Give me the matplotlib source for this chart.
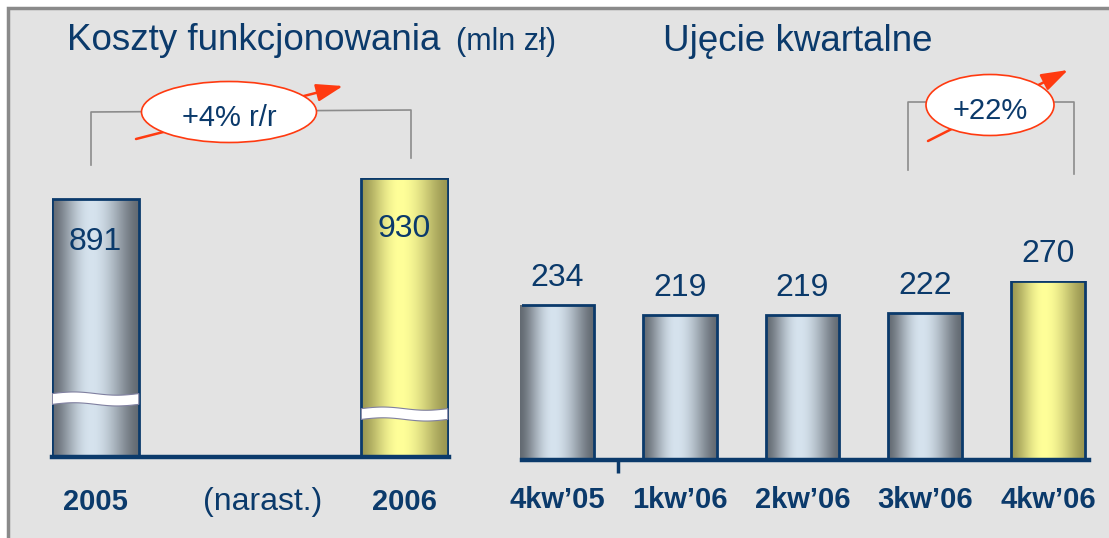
import numpy as np
import matplotlib.pyplot as plt
import matplotlib.transforms as mtransforms
from matplotlib.colors import to_rgb
from matplotlib.patches import Rectangle, Ellipse, Polygon, FancyArrowPatch

# data
years = ['2005', '2006']
year_costs = [891, 930]
quarters = ['4kw’05', '1kw’06', '2kw’06', '3kw’06', '4kw’06']
quarter_costs = [234, 219, 219, 222, 270]
yoy_label = '+4% r/r'
qoq_label = '+22%'

W, H = 1109, 538
NAVY = '#0b3a6b'
RED = '#ff3a10'
GRAY_BAR = ('#636a72', '#d6e3ee')
GOLD_BAR = ('#9a9752', '#ffff99')
BREAK_FLOOR = 412  # left panel uses a broken axis

plt.rcParams['font.family'] = ['Liberation Sans', 'DejaVu Sans']

fig = plt.figure(figsize=(W / 100, H / 100), dpi=100)
fig.patch.set_facecolor('white')


def px_axes(l, t, r, b):
    return fig.add_axes([l / W, 1 - b / H, (r - l) / W, (b - t) / H])


def gradient(dark, light):
    t = np.linspace(0, 1, 200)
    f = np.where(t < 0.45,
                 np.cos(np.pi / 2 * (0.45 - t) / 0.45),
                 np.cos(np.pi / 2 * (t - 0.45) / 0.55)) ** 1.5
    d = np.array(to_rgb(dark))
    l = np.array(to_rgb(light))
    return (d + (l - d) * f[:, None])[None, :, :]


def draw_bars(ax, x, vals, width, styles):
    # limits must already be set: the gradient starts at the visible floor
    floor = ax.get_ylim()[0]
    bars = ax.bar(x, vals, width, color='none', edgecolor=NAVY, lw=2, zorder=3)
    for b, st in zip(bars, styles):
        im = ax.imshow(gradient(*st),
                       extent=[b.get_x(), b.get_x() + b.get_width(), floor, b.get_height()],
                       aspect='auto', zorder=2, interpolation='bicubic')
        im.set_clip_path(b)
    ax.set_ylim(floor, max(vals))
    return bars


def style_axis(ax):
    ax.patch.set_visible(False)
    for s in ['top', 'left', 'right']:
        ax.spines[s].set_visible(False)
    ax.spines['bottom'].set_color(NAVY)
    ax.spines['bottom'].set_linewidth(3.2)
    ax.set_yticks([])
    ax.tick_params(axis='x', which='major', length=0, labelsize=21, labelcolor=NAVY)


# background panel + decorations in pixel coordinates
bg = fig.add_axes([0, 0, 1, 1])
bg.set_xlim(0, W)
bg.set_ylim(H, 0)
bg.axis('off')
bg.add_patch(Rectangle((8, 8), W + 20, H + 20, fc='#e3e3e3', ec='#8a8a8a', lw=2.5))

fig.text(67 / W, 1 - 50 / H, 'Koszty funkcjonowania', size=26.5, color=NAVY, va='baseline')
fig.text(456 / W, 1 - 50 / H, '(mln zł)', size=22, color=NAVY, va='baseline')
fig.text(663 / W, 1 - 51 / H, 'Ujęcie kwartalne', size=26.5, color=NAVY, va='baseline')

# left panel: yearly totals
ax1 = px_axes(52, 178, 449, 457)
ax1.set_xlim(-0.141, 1.144)
ax1.set_ylim(BREAK_FLOOR, max(year_costs))
bars1 = draw_bars(ax1, [0, 1], year_costs, 0.28, [GRAY_BAR, GOLD_BAR])
ax1.set_xlim(-0.141, 1.144)
style_axis(ax1)
ax1.set_xticks([0, 1])
ax1.set_xticklabels(years, fontweight='bold')
ax1.tick_params(axis='x', pad=22)
ax1.text(0.54, -0.161, '(narast.)', transform=mtransforms.blended_transform_factory(ax1.transData, ax1.transAxes),
         ha='center', va='center', size=23, color=NAVY)

for b, v, off, frac in zip(bars1, year_costs, [43, 51], [0.208, 0.154]):
    cx = b.get_x() + b.get_width() / 2
    ax1.annotate(str(v), xy=(cx, v), xytext=(0, -off), textcoords='offset pixels',
                 ha='center', va='center', size=23, color=NAVY, zorder=5)
    # axis break band
    lo, hi = ax1.get_ylim()
    y0 = lo + frac * (hi - lo)
    xs = np.linspace(b.get_x(), b.get_x() + b.get_width(), 40)
    wave = 3 * np.sin(2 * np.pi * (xs - xs[0]) / (xs[-1] - xs[0]))
    pts = np.vstack([np.column_stack([xs, y0 + 10 + wave]),
                     np.column_stack([xs[::-1], y0 - 10 + wave[::-1]])])
    ax1.add_patch(Polygon(pts, closed=True, fc='white', ec='#8080a0', lw=0.8, zorder=4))

# right panel: quarterly costs
ax2 = px_axes(522, 281, 1089, 460)
ax2.set_xlim(-0.285, 4.334)
ax2.set_ylim(0, max(quarter_costs))
qstyles = [GRAY_BAR] * 4 + [GOLD_BAR]
bars2 = draw_bars(ax2, range(len(quarters)), quarter_costs, 0.6, qstyles)
ax2.set_xlim(-0.285, 4.334)
style_axis(ax2)
ax2.set_xticks(range(len(quarters)))
ax2.set_xticklabels(quarters, fontweight='bold')
ax2.tick_params(axis='x', pad=19)
ax2.set_xticks([0.5], minor=True)
ax2.tick_params(axis='x', which='minor', length=9, width=2.5, color=NAVY, direction='out')

for b, v in zip(bars2, quarter_costs):
    ax2.annotate(str(v), xy=(b.get_x() + b.get_width() / 2, v), xytext=(0, 12),
                 textcoords='offset pixels', ha='center', va='bottom', size=23,
                 color=NAVY, annotation_clip=False)

# growth callouts
bg.plot([91, 91, 411, 411], [165, 112, 110, 158], color='#8c8c8c', lw=1.2)
bg.plot([908, 908, 1074, 1074], [170, 102, 102, 174], color='#8c8c8c', lw=1.2)
for start, end in [((136, 139), (343, 86)), ((928, 141), (1068, 70))]:
    bg.add_patch(FancyArrowPatch(start, end, arrowstyle='-|>,head_length=0.9,head_width=0.3',
                                 mutation_scale=18, color=RED, lw=1.8, zorder=4,
                                 shrinkA=0, shrinkB=0))
for (cx, cy, w, h), label in [((229, 112, 175, 61), yoy_label), ((990, 105, 128, 61), qoq_label)]:
    bg.add_patch(Ellipse((cx, cy), w, h, fc='white', ec=RED, lw=1.2, zorder=5))
    bg.text(cx, cy + 6, label, ha='center', va='center', size=21, color=NAVY, zorder=6)

fig.savefig('out.png', dpi=100)
